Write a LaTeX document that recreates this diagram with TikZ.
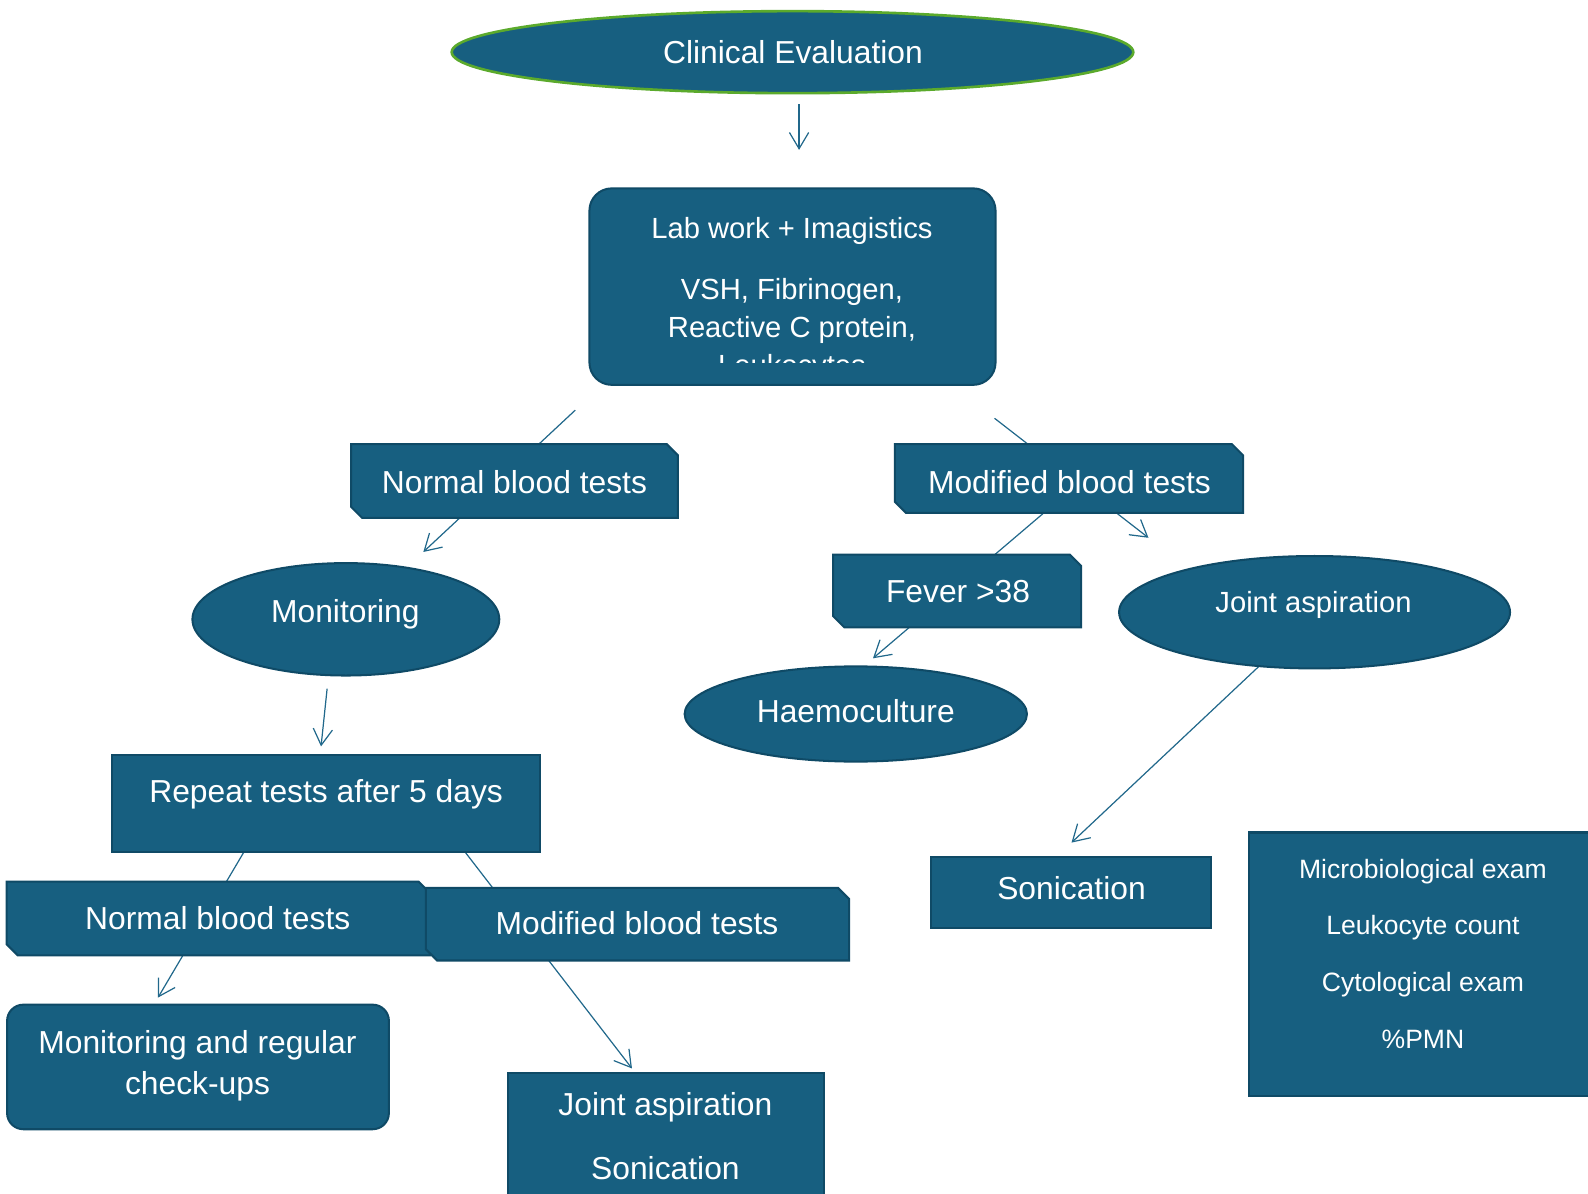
\documentclass[tikz,border=0pt]{standalone}
\usepackage{fontspec}
\setmainfont{Liberation Sans}
\usetikzlibrary{shapes.geometric,arrows.meta}
\definecolor{boxfill}{HTML}{175F80}
\definecolor{boxline}{HTML}{0F4A66}
\definecolor{arrowc}{HTML}{21688B}
\definecolor{evalgreen}{HTML}{5BAA2C}
\newcommand\fbig{\fontsize{15.7}{19}\selectfont}
\newcommand\fmid{\fontsize{14.4}{17}\selectfont}
\newcommand\fsmall{\fontsize{13.1}{16}\selectfont}
\newcommand\chambox[1]{%
  \filldraw[shapebox] (#1.north west) -- ([xshift=-5.5pt]#1.north east) -- ([yshift=-5.5pt]#1.north east)
  -- (#1.south east) -- ([xshift=5.5pt]#1.south west) -- ([yshift=5.5pt]#1.south west) -- cycle;}
\begin{document}
\begin{tikzpicture}[x=0.5pt,y=-0.5pt,
  shapebox/.style={fill=boxfill,draw=boxline,line width=1pt},
  ell/.style={shapebox,ellipse,inner sep=0pt},
  rect/.style={shapebox,rectangle,inner sep=0pt},
  holder/.style={rectangle,inner sep=0pt},
  txt/.style={text=white,inner sep=0pt,text height=0.716em,text depth=0pt,anchor=center,yshift=-2pt},
  conn/.style={draw=arrowc,line width=0.6pt,-{Straight Barb[length=8pt,width=9.5pt]}},
]
\useasboundingbox (0,0) rectangle (1568,1178);

% connector end points
\coordinate (a1s) at (789,103);  \coordinate (a1e) at (789,148);
\coordinate (a2s) at (568,405);  \coordinate (a2e) at (418,545);
\coordinate (a3s) at (982,413);  \coordinate (a3e) at (1134,531);
\coordinate (a4s) at (1030,507); \coordinate (a4e) at (862,650);
\coordinate (a5s) at (323,680);  \coordinate (a5e) at (317,737);
\coordinate (a6s) at (1243,658); \coordinate (a6e) at (1058,832);
\coordinate (a7s) at (241,841);  \coordinate (a7e) at (156,985);
\coordinate (a8s) at (459,841);  \coordinate (a8e) at (624,1055);

% connectors passing behind boxes
\draw[conn] (a2s) -- (a2e);
\draw[conn] (a3s) -- (a3e);
\draw[conn] (a4s) -- (a4e);
\draw[conn] (a6s) -- (a6e);
\draw[conn] (a7s) -- (a7e);
\draw[conn] (a8s) -- (a8e);
\draw[conn] (a1s) -- (a1e);
\draw[conn] (a5s) -- (a5e);

% shapes
\node[ell,draw=evalgreen,line width=1.3pt,minimum width=336.5pt,minimum height=40.5pt] (clin) at (782.5,51.5) {};
\node[rect,rounded corners=11pt,minimum width=200.5pt,minimum height=97pt] (lab) at (782.5,283) {};
\node[holder,minimum width=161pt,minimum height=36pt] (nbt1) at (508,475) {};
\chambox{nbt1}
\node[holder,minimum width=171.5pt,minimum height=33.5pt] (mbt1) at (1055.5,472.5) {};
\chambox{mbt1}
\node[holder,minimum width=122pt,minimum height=35.5pt] (fever) at (945,583.5) {};
\chambox{fever}
\node[ell,minimum width=151.5pt,minimum height=55.5pt] (mon) at (341.5,611.5) {};
\node[ell,minimum width=169pt,minimum height=47pt] (haemo) at (845,705) {};
\node[ell,minimum width=193pt,minimum height=55.5pt] (joint) at (1298,604.5) {};
\node[rect,minimum width=211pt,minimum height=48pt] (rep) at (322,793) {};
\node[holder,minimum width=208.5pt,minimum height=36pt] (nbt2) at (215.5,907) {};
\chambox{nbt2}
\node[holder,minimum width=208.5pt,minimum height=35.5pt] (mbt2) at (629.5,912.5) {};
\chambox{mbt2}
\node[rect,minimum width=138.5pt,minimum height=35pt] (son) at (1057.5,881) {};
\node[rect,minimum width=171pt,minimum height=130pt] (micro) at (1404,952) {};
\node[rect,rounded corners=8pt,minimum width=188.5pt,minimum height=61.5pt] (monreg) at (195.5,1053.5) {};
\node[rect,minimum width=156pt,minimum height=70.5pt] (jas) at (658,1129.5) {};

% texts
\node[txt,font=\fbig] (tclin) at (783,52) {Clinical Evaluation};
\node[txt,font=\fmid] (tlab1) at (782,224) {Lab work + Imagistics};
\node[txt,font=\fmid] (tlab2) at (782,285) {VSH, Fibrinogen,};
\node[txt,font=\fmid] (tlab3) at (782,322) {Reactive C protein,};
\begin{scope}
\clip (582,186) rectangle (983,358);
\node[txt,font=\fmid] (tlab4) at (782,360) {Leukocytes};
\end{scope}
\node[txt,font=\fbig] (tnbt1) at (508,476) {Normal blood tests};
\node[txt,font=\fbig] (tmbt1) at (1056,476) {Modified blood tests};
\node[txt,font=\fbig] (tfever) at (946,584) {Fever >38};
\node[txt,font=\fbig] (tmon) at (341,603) {Monitoring};
\node[txt,font=\fmid] (tjoint) at (1297,594) {Joint aspiration};
\node[txt,font=\fbig] (thaemo) at (845,702) {Haemoculture};
\node[txt,font=\fbig] (trep) at (322,781) {Repeat tests after 5 days};
\node[txt,font=\fbig] (tson) at (1058,877) {Sonication};
\node[txt,font=\fsmall] (tmic1) at (1405,856) {Microbiological exam};
\node[txt,font=\fsmall] (tmic2) at (1405,912) {Leukocyte count};
\node[txt,font=\fsmall] (tmic3) at (1405,968) {Cytological exam};
\node[txt,font=\fsmall] (tmic4) at (1405,1024) {\%PMN};
\node[txt,font=\fbig] (tnbt2) at (215,907) {Normal blood tests};
\node[txt,font=\fbig] (tmbt2) at (629,912) {Modified blood tests};
\node[txt,font=\fbig] (tmr1) at (195,1029) {Monitoring and regular};
\node[txt,font=\fbig] (tmr2) at (195,1070) {check-ups};
\node[txt,font=\fbig] (tjas1) at (657,1090) {Joint aspiration};
\node[txt,font=\fbig] (tjas2) at (657,1153) {Sonication};
\end{tikzpicture}
\end{document}
